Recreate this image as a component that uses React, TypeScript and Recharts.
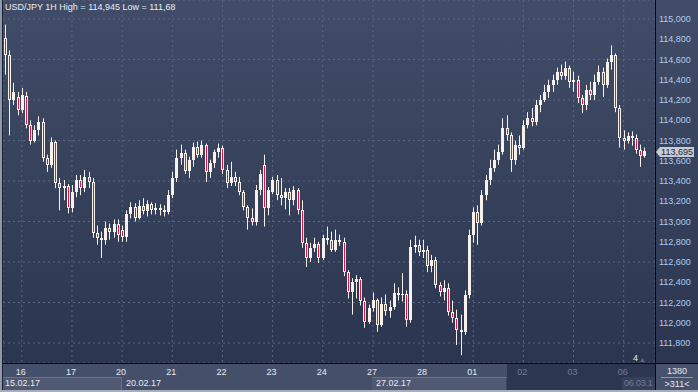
import React from 'react'
import { Bar, CartesianGrid, ComposedChart, XAxis, YAxis } from 'recharts'

// 2-hour candles, USD/JPY, 15.02.17 .. 06.03.17
const opens = [
  114.81, 114.64, 114.20, 114.23,
  114.10, 114.24, 113.95, 113.80, 113.90, 113.98, 113.63, 113.56, 113.79, 113.38, 113.33, 113.35,
  113.13, 113.29, 113.41, 113.33, 113.44, 113.39, 112.89, 112.84, 112.82, 112.94, 112.90, 112.98,
  112.92, 112.85, 113.07, 113.14, 113.03, 113.15, 113.10, 113.17, 113.11, 113.13, 113.11, 113.09,
  113.26, 113.43, 113.63, 113.68, 113.50, 113.61, 113.74, 113.66, 113.76, 113.49, 113.58, 113.69,
  113.73, 113.51, 113.38, 113.44, 113.39, 113.29, 113.14, 113.03, 113.00, 113.31, 113.56, 113.13,
  113.29, 113.41, 113.26, 113.23, 113.29, 113.21, 113.31, 113.11, 112.79, 112.64, 112.74, 112.78,
  112.64, 112.84, 112.82, 112.72, 112.82, 112.80, 112.50, 112.30, 112.40, 112.43, 112.21, 112.01,
  112.15, 112.22, 111.98, 112.19, 112.12, 112.16, 112.29, 112.27, 112.28, 112.03, 112.75, 112.77,
  112.70, 112.72, 112.56, 112.62, 112.37, 112.30, 112.34, 112.11, 112.05, 111.93, 111.91, 112.27,
  112.87, 113.09, 112.99, 113.26, 113.41, 113.53, 113.61, 113.69, 113.92, 113.85, 113.61, 113.76,
  113.73, 113.95, 114.02, 113.98, 114.15, 114.20, 114.28, 114.35, 114.40, 114.48, 114.44, 114.52,
  114.38, 114.40, 114.22, 114.15, 114.30, 114.25, 114.38, 114.48, 114.35, 114.58, 114.64, 114.12,
  113.82, 113.80, 113.84, 113.82, 113.71, 113.65,
]
const highs = [
  114.945, 114.69, 114.37, 114.28,
  114.32, 114.28, 114.00, 113.95, 114.04, 114.02, 113.66, 113.83, 113.80, 113.43, 113.41, 113.37,
  113.36, 113.46, 113.46, 113.51, 113.49, 113.43, 112.96, 112.90, 113.00, 112.98, 113.02, 113.02,
  112.96, 113.11, 113.19, 113.18, 113.21, 113.23, 113.21, 113.19, 113.18, 113.17, 113.16, 113.31,
  113.49, 113.71, 113.76, 113.71, 113.64, 113.78, 113.79, 113.80, 113.77, 113.61, 113.71, 113.77,
  113.75, 113.56, 113.59, 113.49, 113.44, 113.31, 113.16, 113.13, 113.36, 113.51, 113.66, 113.34,
  113.44, 113.46, 113.43, 113.33, 113.33, 113.35, 113.33, 113.21, 112.84, 112.79, 112.84, 112.80,
  112.87, 112.95, 112.90, 112.92, 112.87, 112.84, 112.52, 112.44, 112.47, 112.45, 112.25, 112.18,
  112.30, 112.24, 112.25, 112.28, 112.22, 112.39, 112.35, 112.49, 112.32, 112.82, 112.86, 112.82,
  112.82, 112.76, 112.67, 112.65, 112.40, 112.42, 112.39, 112.22, 112.13, 112.08, 112.32, 112.92,
  113.14, 113.16, 113.31, 113.46, 113.61, 113.71, 113.76, 114.02, 114.05, 113.88, 113.80, 113.85,
  114.00, 114.08, 114.12, 114.20, 114.25, 114.35, 114.40, 114.45, 114.52, 114.55, 114.58, 114.54,
  114.48, 114.44, 114.25, 114.35, 114.38, 114.45, 114.54, 114.52, 114.61, 114.74, 114.66, 114.15,
  113.90, 113.88, 113.89, 113.86, 113.76, 113.73,
]
const lows = [
  114.45, 113.85, 114.15, 114.05,
  114.07, 113.92, 113.76, 113.78, 113.85, 113.59, 113.49, 113.53, 113.33, 113.11, 113.21, 113.08,
  113.09, 113.24, 113.26, 113.29, 113.33, 112.84, 112.77, 112.64, 112.77, 112.82, 112.84, 112.80,
  112.80, 112.80, 113.03, 113.00, 113.02, 113.07, 113.05, 113.07, 113.07, 113.06, 113.05, 113.07,
  113.23, 113.39, 113.56, 113.47, 113.43, 113.54, 113.63, 113.63, 113.39, 113.43, 113.53, 113.63,
  113.47, 113.33, 113.35, 113.35, 113.26, 113.11, 112.92, 112.96, 112.96, 113.26, 112.95, 113.06,
  113.27, 113.21, 113.16, 113.12, 113.06, 113.16, 113.07, 112.74, 112.55, 112.60, 112.70, 112.59,
  112.62, 112.77, 112.70, 112.70, 112.76, 112.46, 112.24, 112.08, 112.24, 112.17, 111.95, 111.99,
  112.11, 111.91, 111.96, 112.07, 112.05, 112.13, 112.22, 112.21, 111.96, 112.00, 112.69, 112.66,
  112.64, 112.50, 112.50, 112.34, 112.26, 112.22, 112.07, 112.00, 111.78, 111.68, 111.88, 112.24,
  112.79, 112.77, 112.96, 113.21, 113.36, 113.49, 113.56, 113.66, 113.80, 113.49, 113.56, 113.66,
  113.71, 113.92, 113.94, 113.95, 114.08, 114.18, 114.22, 114.28, 114.35, 114.40, 114.40, 114.32,
  114.28, 114.17, 114.07, 114.10, 114.20, 114.20, 114.35, 114.23, 114.32, 114.50, 114.08, 113.73,
  113.71, 113.77, 113.75, 113.67, 113.54, 113.63,
]
const closes = [
  114.64, 114.20, 114.28, 114.10,
  114.25, 113.95, 113.80, 113.90, 113.98, 113.63, 113.56, 113.79, 113.38, 113.33, 113.35, 113.13,
  113.29, 113.41, 113.33, 113.44, 113.39, 112.89, 112.84, 112.82, 112.94, 112.90, 112.98, 112.87,
  112.85, 113.07, 113.14, 113.03, 113.15, 113.10, 113.17, 113.11, 113.13, 113.11, 113.09, 113.26,
  113.43, 113.63, 113.68, 113.50, 113.61, 113.74, 113.66, 113.76, 113.49, 113.58, 113.69, 113.73,
  113.51, 113.38, 113.44, 113.39, 113.29, 113.14, 113.03, 113.00, 113.31, 113.47, 113.13, 113.31,
  113.41, 113.26, 113.23, 113.29, 113.21, 113.31, 113.11, 112.79, 112.64, 112.74, 112.78, 112.64,
  112.84, 112.82, 112.72, 112.82, 112.80, 112.50, 112.30, 112.40, 112.43, 112.21, 112.01, 112.15,
  112.22, 111.98, 112.19, 112.12, 112.16, 112.29, 112.27, 112.28, 112.03, 112.75, 112.77, 112.70,
  112.72, 112.56, 112.62, 112.37, 112.30, 112.34, 112.11, 112.05, 111.93, 111.91, 112.27, 112.87,
  113.09, 112.99, 113.26, 113.41, 113.53, 113.61, 113.69, 113.92, 113.85, 113.61, 113.76, 113.73,
  113.95, 114.02, 113.98, 114.15, 114.20, 114.28, 114.35, 114.40, 114.48, 114.44, 114.52, 114.38,
  114.40, 114.22, 114.15, 114.30, 114.25, 114.38, 114.48, 114.35, 114.58, 114.64, 114.12, 113.82,
  113.80, 113.84, 113.82, 113.71, 113.65, 113.695,
]

// candles per trading day, and the day labels on the time axis
const dayLabels = ['15', '16', '17', '20', '21', '22', '23', '24', '27', '28', '01', '02', '03', '06']
const barsPerDay = [4, 12, 12, 12, 12, 12, 12, 12, 12, 12, 12, 12, 12, 6]
const futureDays = ['02', '03', '06']
const emptySlots = 2

const priceTicks = [111.8, 112.0, 112.2, 112.4, 112.6, 112.8, 113.0, 113.2, 113.4, 113.6, 113.8, 114.0, 114.2, 114.4, 114.6, 114.8, 115.0]
const lastPrice = 113.695

const WHITE = '#f7f1ea'
const RED = '#e2143c'
const FONT = '"Liberation Sans", Arial, sans-serif'

const dayOfBar: string[] = []
const dayStart: number[] = []
barsPerDay.forEach((n, d) => {
  dayStart.push(dayOfBar.length)
  for (let k = 0; k < n; k++) dayOfBar.push(dayLabels[d])
})

const data = [
  ...opens.map((o, i) => ({ t: i, day: dayOfBar[i], open: o, high: highs[i], low: lows[i], close: closes[i] })),
  ...Array.from({ length: emptySlots }, (_, k) => ({ t: opens.length + k, day: '' })),
]
const tickIdx = dayStart.slice(1)

const fmt = (v: number, d = 3) => v.toFixed(d).replace('.', ',')

const Candle = (props: any) => {
  const { x, y, width, height, payload } = props
  if (payload == null || payload.open == null || y == null) return null
  const top = Math.min(y, y + height)
  const bottom = Math.max(y, y + height)
  const { open, close, high, low } = payload
  const span = high - low || 1
  const py = (v: number) => top + ((high - v) / span) * (bottom - top)
  const cx = Math.round(x + width / 2)
  const bTop = Math.round(Math.min(py(open), py(close)))
  const bBot = Math.max(Math.round(Math.max(py(open), py(close))), bTop + 1)
  const down = close < open
  return (
    <g>
      <rect x={cx} y={top} width={1} height={Math.max(bottom - top, 1)} fill={WHITE} />
      <rect x={cx - 1} y={bTop} width={3} height={bBot - bTop} fill={WHITE} />
      {down && bBot - bTop > 2 && <rect x={cx} y={bTop + 1} width={1} height={bBot - bTop - 2} fill={RED} />}
    </g>
  )
}

const TimeTick = (props: any) => {
  const { x, y, payload } = props
  const label = dayOfBar[payload.value]
  const dim = futureDays.includes(label) && payload.value >= dayStart[11]
  return (
    <text x={x - 1} y={y} dy="0.71em" textAnchor="middle" fontSize={9} fontFamily={FONT} fill={dim ? '#6e7d99' : '#e6eaf1'}>
      {label}
    </text>
  )
}

const abs = (s: React.CSSProperties): React.CSSProperties => ({ position: 'absolute', ...s })
const txt: React.CSSProperties = { fontFamily: FONT, fontSize: 9, lineHeight: '11px', whiteSpace: 'nowrap' }

export default function App() {
  return (
    <div style={{ position: 'relative', width: 698, height: 392, overflow: 'hidden', background: 'linear-gradient(to bottom, #414d68 0px, #2b354f 363px)' }}>
      <style>{'body{margin:0}'}</style>
      {/* bottom time strip */}
      <div style={abs({ left: 3, top: 364, width: 652, height: 26, background: '#445069' })} />
      <div style={abs({ left: 507, top: 364, width: 148, height: 26, background: '#2c3650' })} />
      <div style={abs({ left: 3, top: 377, width: 118, height: 12, background: '#4f5a72', borderTop: '1px solid #67728b', borderRight: '1px solid #67728b' })} />
      <div style={abs({ left: 372, top: 377, width: 134, height: 12, background: '#4f5a72', borderTop: '1px solid #67728b', borderRight: '1px solid #3a4560' })} />
      <div style={abs({ left: 622, top: 377, width: 33, height: 13, background: '#36405a' })} />
      <div style={abs({ left: 656, top: 364, width: 42, height: 26, background: '#46516b' })} />

      <div style={abs({ left: 0, top: 0 })}>
        <ComposedChart width={698} height={392} data={data} margin={{ top: 0, right: 0, bottom: 0, left: 3 }} barCategoryGap={0}>
          <CartesianGrid stroke="#5a6681" strokeDasharray="2 3" />
          <XAxis dataKey="t" type="category" ticks={tickIdx} interval={0} tick={TimeTick} tickLine={false} axisLine={false} tickSize={0} tickMargin={6} height={29} />
          <YAxis
            orientation="right"
            type="number"
            domain={[111.6025, 115.1877]}
            allowDataOverflow
            ticks={priceTicks}
            tickFormatter={(v: number) => fmt(v)}
            tick={{ fill: '#aecbef', fontSize: 9, fontFamily: FONT }}
            tickLine={false}
            axisLine={false}
            tickSize={0}
            tickMargin={4}
            width={43}
          />
          <Bar dataKey={(d: any) => (d.open == null ? null : [d.low, d.high])} shape={(p: any) => <Candle {...p} />} isAnimationActive={false} />
        </ComposedChart>
      </div>

      {/* frame lines */}
      <div style={abs({ left: 655, top: 0, width: 1, height: 390, background: '#05070c' })} />
      <div style={abs({ left: 3, top: 363, width: 695, height: 1, background: '#05070c' })} />
      <div style={abs({ left: 0, top: 0, width: 2, height: 392, background: '#8f99ab' })} />
      <div style={abs({ left: 2, top: 0, width: 1, height: 392, background: '#1b2131' })} />
      <div style={abs({ left: 0, top: 390, width: 698, height: 2, background: '#a7afbd' })} />

      {/* texts */}
      <div style={{ ...txt, ...abs({ left: 5, top: 2, color: '#e7ecf3' }) }}>
        USD/JPY 1H High = {fmt(highs[0])} Low = {fmt(Math.min(...lows), 2)}
      </div>
      <div style={{ ...txt, ...abs({ left: 5, top: 378, color: '#e6eaf1' }) }}>15.02.17</div>
      <div style={{ ...txt, ...abs({ left: 126, top: 378, color: '#e6eaf1' }) }}>20.02.17</div>
      <div style={{ ...txt, ...abs({ left: 376, top: 378, color: '#e6eaf1' }) }}>27.02.17</div>
      <div style={{ ...txt, ...abs({ left: 624, top: 378, color: '#6e7d99', letterSpacing: -0.2 }) }}>06.03.1</div>
      <div style={{ ...txt, ...abs({ left: 656, top: 366, width: 42, textAlign: 'center', color: '#e6eaf1' }) }}>1380</div>
      <div style={abs({ left: 661, top: 377, width: 32, height: 1, background: '#8c96aa' })} />
      <div style={{ ...txt, ...abs({ left: 656, top: 379, width: 42, textAlign: 'center', color: '#e6eaf1' }) }}>&gt;311&lt;</div>
      <div style={{ ...txt, ...abs({ left: 633, top: 353, color: '#e6eaf1' }) }}>4</div>
      <div style={{ ...txt, ...abs({ left: 639, top: 354, fontSize: 7, color: '#5f6b82' }) }}>▲</div>

      {/* last price marker */}
      <div style={abs({ left: 656, top: 147, width: 0, height: 0, borderTop: '5px solid transparent', borderBottom: '5px solid transparent', borderRight: '4px solid #c5ccd6' })} />
      <div style={{ ...txt, ...abs({ left: 660, top: 147, width: 34, height: 10, lineHeight: '10px', background: '#c5ccd6', color: '#1e2535', textAlign: 'center' }) }}>
        {fmt(lastPrice)}
      </div>
    </div>
  )
}
